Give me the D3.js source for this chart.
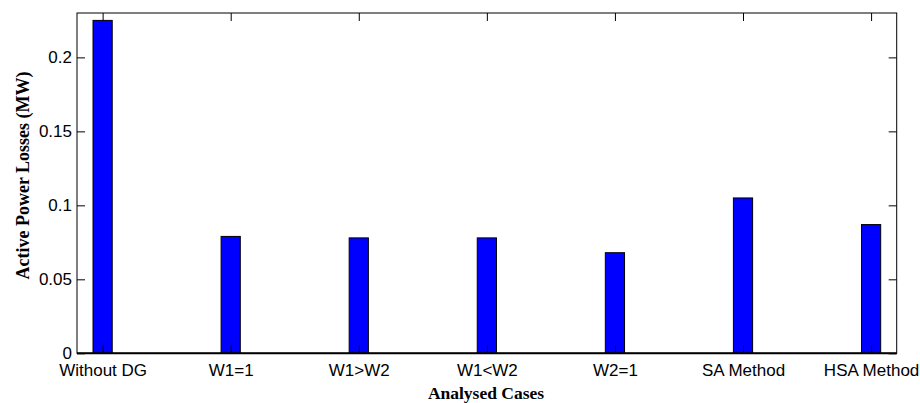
<!DOCTYPE html>
<html>
<head>
<meta charset="utf-8">
<script src="https://cdn.jsdelivr.net/npm/d3@7"></script>
<style>
  html, body { margin: 0; padding: 0; background: #fff; }
  svg { display: block; }
</style>
</head>
<body>
<svg id="chart" width="920" height="403"></svg>
<script>
// Active power losses for each analysed case
const categories = ["Without DG", "W1=1", "W1>W2", "W1<W2", "W2=1", "SA Method", "HSA Method"];
const losses = [0.225, 0.079, 0.078, 0.078, 0.068, 0.105, 0.087];
const yTicks = [0, 0.05, 0.1, 0.15, 0.2];
const yTickLabels = ["0", "0.05", "0.1", "0.15", "0.2"];
const yMax = 0.23;
const xLabel = "Analysed Cases";
const yLabel = "Active Power Losses (MW)";

const svg = d3.select("#chart");
const plot = { left: 77, right: 896.7, top: 13, bottom: 353.3 };
const barWidth = 0.15; // in category units
const tickLen = 8;

const positions = categories.map((_, i) => i + 1);
const x = d3.scaleLinear().domain([0.8, categories.length + 0.2]).range([plot.left, plot.right]);
const y = d3.scaleLinear().domain([0, yMax]).range([plot.bottom, plot.top]);

svg.append("rect").attr("width", 920).attr("height", 403).attr("fill", "#fff");

// Bars
svg.append("g").selectAll("rect")
  .data(losses)
  .join("rect")
  .attr("x", (d, i) => x(positions[i] - barWidth / 2))
  .attr("width", (d, i) => x(positions[i] + barWidth / 2) - x(positions[i] - barWidth / 2))
  .attr("y", d => y(d))
  .attr("height", d => y(0) - y(d))
  .attr("fill", "#0000ff")
  .attr("stroke", "#000")
  .attr("stroke-width", 1);

// Axes (inward ticks, box style)
const fontTick = "'Liberation Sans', Arial, Helvetica, sans-serif";

const xAxisBottom = d3.axisBottom(x).tickValues(positions)
  .tickFormat((d, i) => categories[i]).tickSizeInner(-tickLen).tickSizeOuter(0);
const xAxisTop = d3.axisTop(x).tickValues(positions)
  .tickFormat("").tickSizeInner(-tickLen).tickSizeOuter(0);
const yAxisLeft = d3.axisLeft(y).tickValues(yTicks)
  .tickFormat((d, i) => yTickLabels[i]).tickSizeInner(-tickLen).tickSizeOuter(0);
const yAxisRight = d3.axisRight(y).tickValues(yTicks)
  .tickFormat("").tickSizeInner(-tickLen).tickSizeOuter(0);

function styleAxis(g) {
  g.select(".domain").remove();
  g.selectAll(".tick line").attr("stroke", "#000").attr("stroke-width", 1);
  g.selectAll(".tick text").attr("fill", "#000")
    .style("font-family", fontTick).style("font-size", "17px");
}

svg.append("g").attr("transform", `translate(0,${plot.bottom})`).call(xAxisBottom).call(styleAxis)
  .selectAll(".tick text").attr("dy", 0).attr("y", 23);
svg.append("g").attr("transform", `translate(0,${plot.top})`).call(xAxisTop).call(styleAxis);
svg.append("g").attr("transform", `translate(${plot.left},0)`).call(yAxisLeft).call(styleAxis)
  .selectAll(".tick text").attr("x", -5);
svg.append("g").attr("transform", `translate(${plot.right},0)`).call(yAxisRight).call(styleAxis);

// Box
svg.append("rect")
  .attr("x", plot.left).attr("y", plot.top)
  .attr("width", plot.right - plot.left).attr("height", plot.bottom - plot.top)
  .attr("fill", "none").attr("stroke", "#000").attr("stroke-width", 1);

// Bar baseline
svg.append("line")
  .attr("x1", plot.left).attr("x2", plot.right)
  .attr("y1", y(0)).attr("y2", y(0))
  .attr("stroke", "#000").attr("stroke-width", 2);

// Axis titles
const fontTitle = "'Liberation Serif', 'Times New Roman', Times, serif";
svg.append("text")
  .attr("x", 486).attr("y", 399)
  .attr("text-anchor", "middle")
  .style("font-family", fontTitle).style("font-weight", "bold").style("font-size", "17.5px")
  .text(xLabel);

svg.append("text")
  .attr("transform", `translate(29,175.5) rotate(-90)`)
  .attr("text-anchor", "middle")
  .style("font-family", fontTitle).style("font-weight", "bold").style("font-size", "18px")
  .text(yLabel);
</script>
</body>
</html>
